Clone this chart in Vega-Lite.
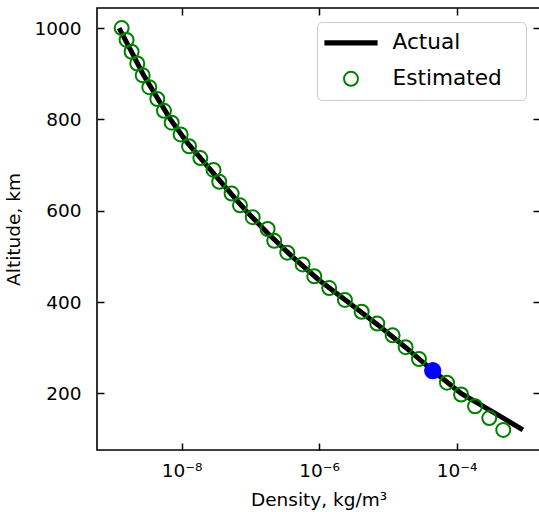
{
  "$schema": "https://vega.github.io/schema/vega-lite/v6.json",
  "width": 443,
  "height": 442,
  "autosize": {"type": "none"},
  "padding": {"left": 97, "top": 8, "right": 0, "bottom": 62},
  "config": {
    "font": "DejaVu Sans",
    "view": {"stroke": "black", "strokeWidth": 1.6},
    "axis": {
      "grid": false,
      "domain": false,
      "tickColor": "black",
      "tickWidth": 1.5,
      "tickSize": -7,
      "labelColor": "black",
      "labelFont": "DejaVu Sans",
      "labelFontSize": 18.5,
      "titleColor": "black",
      "titleFont": "DejaVu Sans",
      "titleFontSize": 18.5,
      "titleFontWeight": "normal"
    }
  },
  "resolve": {"axis": {"x": "independent", "y": "independent"}},
  "layer": [
    {
      "data": {
        "values": [
          {"alt": 1000, "density": 1.23e-9, "series": "Actual"},
          {"alt": 950, "density": 1.84e-9, "series": "Actual"},
          {"alt": 900, "density": 2.72e-9, "series": "Actual"},
          {"alt": 850, "density": 4.30e-9, "series": "Actual"},
          {"alt": 800, "density": 6.87e-9, "series": "Actual"},
          {"alt": 750, "density": 1.19e-8, "series": "Actual"},
          {"alt": 700, "density": 2.30e-8, "series": "Actual"},
          {"alt": 650, "density": 4.41e-8, "series": "Actual"},
          {"alt": 600, "density": 8.61e-8, "series": "Actual"},
          {"alt": 550, "density": 1.80e-7, "series": "Actual"},
          {"alt": 500, "density": 4.02e-7, "series": "Actual"},
          {"alt": 450, "density": 9.62e-7, "series": "Actual"},
          {"alt": 400, "density": 2.62e-6, "series": "Actual"},
          {"alt": 350, "density": 7.16e-6, "series": "Actual"},
          {"alt": 300, "density": 1.83e-5, "series": "Actual"},
          {"alt": 250, "density": 4.48e-5, "series": "Actual"},
          {"alt": 200, "density": 1.16e-4, "series": "Actual"},
          {"alt": 150, "density": 4.27e-4, "series": "Actual"},
          {"alt": 120, "density": 9.2e-4, "series": "Actual"}
        ]
      },
      "mark": {"type": "line", "strokeWidth": 5, "clip": true},
      "encoding": {
        "x": {
          "field": "density", "type": "quantitative",
          "scale": {"type": "log", "domain": [5.868e-10, 1.63e-3], "nice": false},
          "axis": {
            "orient": "bottom",
            "values": [1e-8, 1e-6, 1e-4],
            "labelExpr": "datum.value < 1e-7 ? '10⁻⁸' : datum.value < 1e-5 ? '10⁻⁶' : '10⁻⁴'",
            "labelPadding": 18,
            "title": "Density, kg/m³",
            "titlePadding": 11
          }
        },
        "y": {
          "field": "alt", "type": "quantitative",
          "scale": {"domain": [76, 1044], "nice": false, "zero": false},
          "axis": {
            "orient": "left",
            "values": [200, 400, 600, 800, 1000],
            "format": "d",
            "labelPadding": 23,
            "title": "Altitude, km",
            "titlePadding": 10
          }
        },
        "order": {"field": "alt", "sort": "descending"},
        "color": {
          "field": "series", "type": "nominal",
          "scale": {"domain": ["Actual", "Estimated"], "range": ["black", "green"]},
          "legend": {
            "orient": "none",
            "legendX": 220,
            "legendY": 14,
            "title": null,
            "labelFont": "DejaVu Sans",
            "labelFontSize": 21.6,
            "labelColor": "black",
            "labelOffset": 44,
            "labelExpr": "datum.label + '\u00a0\u00a0\u200b'",
            "padding": 10,
            "rowPadding": 13,
            "symbolSize": 196,
            "fillColor": "white",
            "strokeColor": "#cccccc",
            "cornerRadius": 5,
            "encode": {
              "symbols": {
                "update": {
                  "x": {"value": 24},
                  "shape": {"signal": "datum.value === 'Actual' ? 'M-3.8,0H3.8' : 'circle'"},
                  "strokeWidth": {"signal": "datum.value === 'Actual' ? 5.3 : 2"},
                  "stroke": {"signal": "datum.value === 'Actual' ? 'black' : 'green'"},
                  "fill": {"value": "transparent"},
                  "opacity": {"value": 1}
                }
              }
            }
          }
        }
      }
    },
    {
      "data": {
        "values": [
          {"alt": 1000, "density": 1.34e-9, "series": "Estimated"},
          {"alt": 974.1, "density": 1.58e-9, "series": "Estimated"},
          {"alt": 948.2, "density": 1.87e-9, "series": "Estimated"},
          {"alt": 922.4, "density": 2.26e-9, "series": "Estimated"},
          {"alt": 896.5, "density": 2.71e-9, "series": "Estimated"},
          {"alt": 870.6, "density": 3.38e-9, "series": "Estimated"},
          {"alt": 844.7, "density": 4.42e-9, "series": "Estimated"},
          {"alt": 818.8, "density": 5.53e-9, "series": "Estimated"},
          {"alt": 792.9, "density": 7.16e-9, "series": "Estimated"},
          {"alt": 767.1, "density": 9.66e-9, "series": "Estimated"},
          {"alt": 741.2, "density": 1.28e-8, "series": "Estimated"},
          {"alt": 715.3, "density": 1.87e-8, "series": "Estimated"},
          {"alt": 689.4, "density": 2.91e-8, "series": "Estimated"},
          {"alt": 663.5, "density": 3.52e-8, "series": "Estimated"},
          {"alt": 637.6, "density": 5.33e-8, "series": "Estimated"},
          {"alt": 611.8, "density": 7.05e-8, "series": "Estimated"},
          {"alt": 585.9, "density": 1.08e-7, "series": "Estimated"},
          {"alt": 560.0, "density": 1.78e-7, "series": "Estimated"},
          {"alt": 534.1, "density": 2.22e-7, "series": "Estimated"},
          {"alt": 508.2, "density": 3.44e-7, "series": "Estimated"},
          {"alt": 482.4, "density": 5.75e-7, "series": "Estimated"},
          {"alt": 456.5, "density": 8.49e-7, "series": "Estimated"},
          {"alt": 430.6, "density": 1.40e-6, "series": "Estimated"},
          {"alt": 404.7, "density": 2.37e-6, "series": "Estimated"},
          {"alt": 378.8, "density": 4.15e-6, "series": "Estimated"},
          {"alt": 352.9, "density": 7.00e-6, "series": "Estimated"},
          {"alt": 327.1, "density": 1.17e-5, "series": "Estimated"},
          {"alt": 301.2, "density": 1.81e-5, "series": "Estimated"},
          {"alt": 275.3, "density": 2.83e-5, "series": "Estimated"},
          {"alt": 249.4, "density": 4.52e-5, "series": "Estimated"},
          {"alt": 223.5, "density": 7.23e-5, "series": "Estimated"},
          {"alt": 197.6, "density": 1.16e-4, "series": "Estimated"},
          {"alt": 171.8, "density": 1.85e-4, "series": "Estimated"},
          {"alt": 145.9, "density": 2.98e-4, "series": "Estimated"},
          {"alt": 120.0, "density": 4.76e-4, "series": "Estimated"}
        ]
      },
      "mark": {"type": "point", "filled": false, "strokeWidth": 2, "size": 196, "opacity": 1},
      "encoding": {
        "x": {
          "field": "density", "type": "quantitative",
          "scale": {"type": "log", "domain": [5.868e-10, 1.63e-3], "nice": false},
          "axis": {"orient": "top", "values": [1e-8, 1e-6, 1e-4], "labels": false, "title": null}
        },
        "y": {
          "field": "alt", "type": "quantitative",
          "scale": {"domain": [76, 1044], "nice": false, "zero": false},
          "axis": {"orient": "right", "values": [200, 400, 600, 800, 1000], "labels": false, "title": null}
        },
        "color": {"field": "series", "type": "nominal"}
      }
    },
    {
      "data": {"values": [{"alt": 250, "density": 4.48e-5}]},
      "mark": {"type": "point", "filled": true, "color": "#0000ff", "size": 300, "opacity": 1},
      "encoding": {
        "x": {"field": "density", "type": "quantitative", "axis": null},
        "y": {"field": "alt", "type": "quantitative", "axis": null}
      }
    }
  ]
}
